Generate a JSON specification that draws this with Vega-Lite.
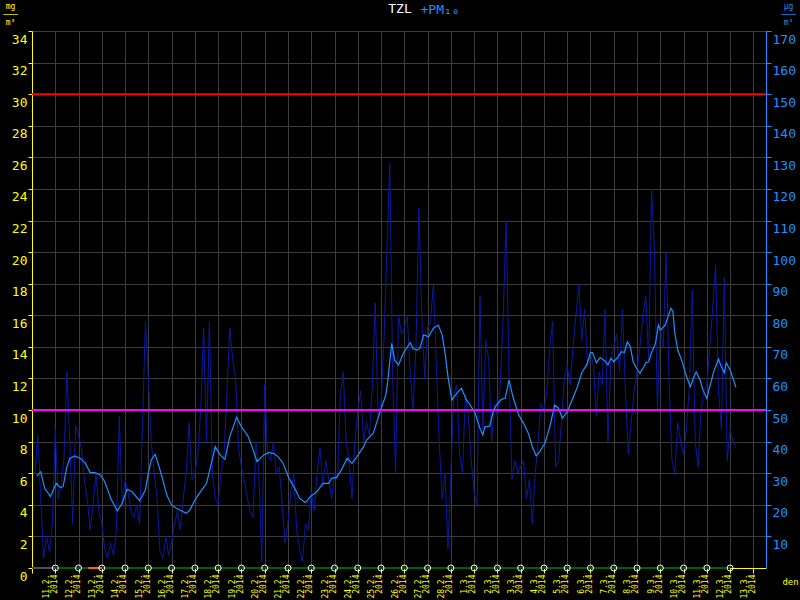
{
  "$schema": "https://vega.github.io/schema/vega-lite/v6.json",
  "width": 734,
  "height": 537,
  "autosize": {"type": "none"},
  "padding": {"left": 32, "top": 31, "right": 34, "bottom": 32},
  "background": "#000000",
  "config": {"view": {"stroke": null}, "font": "DejaVu Sans Mono", "axis": {"labelOverlap": false}},
  "title": {
    "text": "TZL",
    "color": "#ffffff",
    "font": "DejaVu Sans Mono",
    "fontSize": 13,
    "fontWeight": "normal",
    "anchor": "middle",
    "dx": 1,
    "offset": -14
  },
  "datasets": {
    "raw": [
      {"t":"2014-02-11 03:00","v":30},{"t":"2014-02-11 06:00","v":42},{"t":"2014-02-11 09:00","v":22},{"t":"2014-02-11 12:00","v":3},{"t":"2014-02-11 15:00","v":10},{"t":"2014-02-11 18:00","v":5},{"t":"2014-02-11 21:00","v":14},
      {"t":"2014-02-12 00:00","v":44},{"t":"2014-02-12 03:00","v":22},{"t":"2014-02-12 06:00","v":26},{"t":"2014-02-12 09:00","v":35},{"t":"2014-02-12 12:00","v":62},{"t":"2014-02-12 15:00","v":40},{"t":"2014-02-12 18:00","v":14},{"t":"2014-02-12 21:00","v":45},
      {"t":"2014-02-13 00:00","v":42},{"t":"2014-02-13 03:00","v":38},{"t":"2014-02-13 06:00","v":28},{"t":"2014-02-13 09:00","v":22},{"t":"2014-02-13 12:00","v":12},{"t":"2014-02-13 15:00","v":20},{"t":"2014-02-13 18:00","v":30},{"t":"2014-02-13 21:00","v":18},
      {"t":"2014-02-14 00:00","v":14},{"t":"2014-02-14 03:00","v":6},{"t":"2014-02-14 06:00","v":3},{"t":"2014-02-14 09:00","v":8},{"t":"2014-02-14 12:00","v":4},{"t":"2014-02-14 15:00","v":12},{"t":"2014-02-14 18:00","v":48},{"t":"2014-02-14 21:00","v":20},
      {"t":"2014-02-15 00:00","v":28},{"t":"2014-02-15 03:00","v":24},{"t":"2014-02-15 06:00","v":18},{"t":"2014-02-15 09:00","v":16},{"t":"2014-02-15 12:00","v":20},{"t":"2014-02-15 15:00","v":14},{"t":"2014-02-15 18:00","v":46},{"t":"2014-02-15 21:00","v":78},
      {"t":"2014-02-16 00:00","v":60},{"t":"2014-02-16 03:00","v":40},{"t":"2014-02-16 06:00","v":30},{"t":"2014-02-16 09:00","v":22},{"t":"2014-02-16 12:00","v":5},{"t":"2014-02-16 15:00","v":3},{"t":"2014-02-16 18:00","v":10},{"t":"2014-02-16 21:00","v":4},
      {"t":"2014-02-17 00:00","v":8},{"t":"2014-02-17 03:00","v":14},{"t":"2014-02-17 06:00","v":18},{"t":"2014-02-17 09:00","v":12},{"t":"2014-02-17 12:00","v":22},{"t":"2014-02-17 15:00","v":30},{"t":"2014-02-17 18:00","v":46},{"t":"2014-02-17 21:00","v":28},
      {"t":"2014-02-18 00:00","v":30},{"t":"2014-02-18 03:00","v":36},{"t":"2014-02-18 06:00","v":50},{"t":"2014-02-18 09:00","v":76},{"t":"2014-02-18 12:00","v":40},{"t":"2014-02-18 15:00","v":78},{"t":"2014-02-18 18:00","v":30},{"t":"2014-02-18 21:00","v":22},
      {"t":"2014-02-19 00:00","v":20},{"t":"2014-02-19 03:00","v":30},{"t":"2014-02-19 06:00","v":36},{"t":"2014-02-19 09:00","v":55},{"t":"2014-02-19 12:00","v":76},{"t":"2014-02-19 15:00","v":66},{"t":"2014-02-19 18:00","v":60},{"t":"2014-02-19 21:00","v":38},
      {"t":"2014-02-20 00:00","v":32},{"t":"2014-02-20 03:00","v":28},{"t":"2014-02-20 06:00","v":22},{"t":"2014-02-20 09:00","v":18},{"t":"2014-02-20 12:00","v":16},{"t":"2014-02-20 15:00","v":40},{"t":"2014-02-20 18:00","v":30},{"t":"2014-02-20 21:00","v":2},
      {"t":"2014-02-21 00:00","v":58},{"t":"2014-02-21 03:00","v":36},{"t":"2014-02-21 06:00","v":34},{"t":"2014-02-21 09:00","v":40},{"t":"2014-02-21 12:00","v":30},{"t":"2014-02-21 15:00","v":32},{"t":"2014-02-21 18:00","v":20},{"t":"2014-02-21 21:00","v":8},
      {"t":"2014-02-22 00:00","v":14},{"t":"2014-02-22 03:00","v":24},{"t":"2014-02-22 06:00","v":30},{"t":"2014-02-22 09:00","v":12},{"t":"2014-02-22 12:00","v":6},{"t":"2014-02-22 15:00","v":2},{"t":"2014-02-22 18:00","v":14},{"t":"2014-02-22 21:00","v":12},
      {"t":"2014-02-23 00:00","v":24},{"t":"2014-02-23 03:00","v":18},{"t":"2014-02-23 06:00","v":30},{"t":"2014-02-23 09:00","v":38},{"t":"2014-02-23 12:00","v":26},{"t":"2014-02-23 15:00","v":34},{"t":"2014-02-23 18:00","v":28},{"t":"2014-02-23 21:00","v":22},
      {"t":"2014-02-24 00:00","v":30},{"t":"2014-02-24 03:00","v":28},{"t":"2014-02-24 06:00","v":55},{"t":"2014-02-24 09:00","v":62},{"t":"2014-02-24 12:00","v":40},{"t":"2014-02-24 15:00","v":34},{"t":"2014-02-24 18:00","v":22},{"t":"2014-02-24 21:00","v":40},
      {"t":"2014-02-25 00:00","v":50},{"t":"2014-02-25 03:00","v":56},{"t":"2014-02-25 06:00","v":40},{"t":"2014-02-25 09:00","v":46},{"t":"2014-02-25 12:00","v":42},{"t":"2014-02-25 15:00","v":58},{"t":"2014-02-25 18:00","v":84},{"t":"2014-02-25 21:00","v":48},
      {"t":"2014-02-26 00:00","v":52},{"t":"2014-02-26 03:00","v":72},{"t":"2014-02-26 06:00","v":100},{"t":"2014-02-26 09:00","v":128},{"t":"2014-02-26 12:00","v":60},{"t":"2014-02-26 15:00","v":30},{"t":"2014-02-26 18:00","v":80},{"t":"2014-02-26 21:00","v":74},
      {"t":"2014-02-27 00:00","v":76},{"t":"2014-02-27 03:00","v":80},{"t":"2014-02-27 06:00","v":62},{"t":"2014-02-27 09:00","v":50},{"t":"2014-02-27 12:00","v":70},{"t":"2014-02-27 15:00","v":114},{"t":"2014-02-27 18:00","v":80},{"t":"2014-02-27 21:00","v":60},
      {"t":"2014-02-28 00:00","v":76},{"t":"2014-02-28 03:00","v":78},{"t":"2014-02-28 06:00","v":90},{"t":"2014-02-28 09:00","v":64},{"t":"2014-02-28 12:00","v":40},{"t":"2014-02-28 15:00","v":22},{"t":"2014-02-28 18:00","v":30},{"t":"2014-02-28 21:00","v":6},
      {"t":"2014-03-01 00:00","v":30},{"t":"2014-03-01 03:00","v":55},{"t":"2014-03-01 06:00","v":58},{"t":"2014-03-01 09:00","v":36},{"t":"2014-03-01 12:00","v":30},{"t":"2014-03-01 15:00","v":55},{"t":"2014-03-01 18:00","v":48},{"t":"2014-03-01 21:00","v":34},
      {"t":"2014-03-02 00:00","v":24},{"t":"2014-03-02 03:00","v":20},{"t":"2014-03-02 06:00","v":86},{"t":"2014-03-02 09:00","v":44},{"t":"2014-03-02 12:00","v":72},{"t":"2014-03-02 15:00","v":66},{"t":"2014-03-02 18:00","v":40},{"t":"2014-03-02 21:00","v":52},
      {"t":"2014-03-03 00:00","v":48},{"t":"2014-03-03 03:00","v":58},{"t":"2014-03-03 06:00","v":80},{"t":"2014-03-03 09:00","v":110},{"t":"2014-03-03 12:00","v":62},{"t":"2014-03-03 15:00","v":28},{"t":"2014-03-03 18:00","v":34},{"t":"2014-03-03 21:00","v":30},
      {"t":"2014-03-04 00:00","v":32},{"t":"2014-03-04 03:00","v":34},{"t":"2014-03-04 06:00","v":22},{"t":"2014-03-04 09:00","v":28},{"t":"2014-03-04 12:00","v":14},{"t":"2014-03-04 15:00","v":30},{"t":"2014-03-04 18:00","v":40},{"t":"2014-03-04 21:00","v":52},
      {"t":"2014-03-05 00:00","v":50},{"t":"2014-03-05 03:00","v":56},{"t":"2014-03-05 06:00","v":70},{"t":"2014-03-05 09:00","v":78},{"t":"2014-03-05 12:00","v":32},{"t":"2014-03-05 15:00","v":34},{"t":"2014-03-05 18:00","v":46},{"t":"2014-03-05 21:00","v":60},
      {"t":"2014-03-06 00:00","v":64},{"t":"2014-03-06 03:00","v":58},{"t":"2014-03-06 06:00","v":70},{"t":"2014-03-06 09:00","v":80},{"t":"2014-03-06 12:00","v":90},{"t":"2014-03-06 15:00","v":72},{"t":"2014-03-06 18:00","v":82},{"t":"2014-03-06 21:00","v":64},
      {"t":"2014-03-07 00:00","v":68},{"t":"2014-03-07 03:00","v":64},{"t":"2014-03-07 06:00","v":48},{"t":"2014-03-07 09:00","v":62},{"t":"2014-03-07 12:00","v":58},{"t":"2014-03-07 15:00","v":82},{"t":"2014-03-07 18:00","v":40},{"t":"2014-03-07 21:00","v":66},
      {"t":"2014-03-08 00:00","v":70},{"t":"2014-03-08 03:00","v":74},{"t":"2014-03-08 06:00","v":62},{"t":"2014-03-08 09:00","v":82},{"t":"2014-03-08 12:00","v":56},{"t":"2014-03-08 15:00","v":36},{"t":"2014-03-08 18:00","v":46},{"t":"2014-03-08 21:00","v":56},
      {"t":"2014-03-09 00:00","v":62},{"t":"2014-03-09 03:00","v":70},{"t":"2014-03-09 06:00","v":80},{"t":"2014-03-09 09:00","v":86},{"t":"2014-03-09 12:00","v":66},{"t":"2014-03-09 15:00","v":120},{"t":"2014-03-09 18:00","v":100},{"t":"2014-03-09 21:00","v":50},
      {"t":"2014-03-10 00:00","v":76},{"t":"2014-03-10 03:00","v":70},{"t":"2014-03-10 06:00","v":100},{"t":"2014-03-10 09:00","v":60},{"t":"2014-03-10 12:00","v":34},{"t":"2014-03-10 15:00","v":30},{"t":"2014-03-10 18:00","v":46},{"t":"2014-03-10 21:00","v":40},
      {"t":"2014-03-11 00:00","v":36},{"t":"2014-03-11 03:00","v":44},{"t":"2014-03-11 06:00","v":58},{"t":"2014-03-11 09:00","v":88},{"t":"2014-03-11 12:00","v":40},{"t":"2014-03-11 15:00","v":32},{"t":"2014-03-11 18:00","v":50},{"t":"2014-03-11 21:00","v":56},
      {"t":"2014-03-12 00:00","v":58},{"t":"2014-03-12 03:00","v":70},{"t":"2014-03-12 06:00","v":82},{"t":"2014-03-12 09:00","v":96},{"t":"2014-03-12 12:00","v":56},{"t":"2014-03-12 15:00","v":44},{"t":"2014-03-12 18:00","v":92},{"t":"2014-03-12 21:00","v":34},
      {"t":"2014-03-13 00:00","v":44},{"t":"2014-03-13 03:00","v":40},{"t":"2014-03-13 06:00","v":38}
    ],
    "avg": [
      {"t":"2014-02-11 05:00","v":29.1},{"t":"2014-02-11 09:00","v":30.5},{"t":"2014-02-11 13:00","v":25.3},{"t":"2014-02-11 19:00","v":22.6},
      {"t":"2014-02-12 01:00","v":26.8},{"t":"2014-02-12 05:00","v":25.5},{"t":"2014-02-12 08:00","v":25.7},{"t":"2014-02-12 12:00","v":32},{"t":"2014-02-12 15:00","v":34.7},{"t":"2014-02-12 20:00","v":35.5},
      {"t":"2014-02-13 02:00","v":34.7},{"t":"2014-02-13 07:00","v":33.1},{"t":"2014-02-13 12:00","v":30.2},{"t":"2014-02-13 17:00","v":30.2},{"t":"2014-02-13 23:00","v":29.4},
      {"t":"2014-02-14 03:00","v":27.3},{"t":"2014-02-14 10:00","v":21.5},{"t":"2014-02-14 16:00","v":18.1},{"t":"2014-02-14 21:00","v":20.5},
      {"t":"2014-02-15 02:00","v":24.9},{"t":"2014-02-15 07:00","v":24.2},{"t":"2014-02-15 15:00","v":21.3},{"t":"2014-02-15 21:00","v":24.7},
      {"t":"2014-02-16 00:00","v":30},{"t":"2014-02-16 03:00","v":34.2},{"t":"2014-02-16 07:00","v":36},{"t":"2014-02-16 10:00","v":33.1},{"t":"2014-02-16 14:00","v":28.9},{"t":"2014-02-16 19:00","v":23.1},
      {"t":"2014-02-17 00:00","v":19.9},{"t":"2014-02-17 05:00","v":18.9},{"t":"2014-02-17 10:00","v":18.1},{"t":"2014-02-17 15:00","v":17.3},{"t":"2014-02-17 19:00","v":18.4},
      {"t":"2014-02-18 00:00","v":21.5},{"t":"2014-02-18 05:00","v":23.8},{"t":"2014-02-18 12:00","v":26.8},{"t":"2014-02-18 17:00","v":33.1},{"t":"2014-02-18 21:00","v":38.4},
      {"t":"2014-02-19 02:00","v":35.8},{"t":"2014-02-19 07:00","v":34.4},{"t":"2014-02-19 12:00","v":41.6},{"t":"2014-02-19 19:00","v":47.7},
      {"t":"2014-02-20 00:00","v":44.7},{"t":"2014-02-20 07:00","v":41.6},{"t":"2014-02-20 12:00","v":37.4},{"t":"2014-02-20 16:00","v":33.7},{"t":"2014-02-20 23:00","v":35.8},
      {"t":"2014-02-21 04:00","v":36.5},{"t":"2014-02-21 09:00","v":36.3},{"t":"2014-02-21 14:00","v":35.2},{"t":"2014-02-21 19:00","v":33.1},
      {"t":"2014-02-22 01:00","v":28.4},{"t":"2014-02-22 07:00","v":25.2},{"t":"2014-02-22 12:00","v":22.1},{"t":"2014-02-22 18:00","v":20.7},{"t":"2014-02-22 23:00","v":22.6},
      {"t":"2014-02-23 06:00","v":24.2},{"t":"2014-02-23 12:00","v":26.8},{"t":"2014-02-23 18:00","v":26.8},{"t":"2014-02-23 21:00","v":28.4},
      {"t":"2014-02-24 02:00","v":28.7},{"t":"2014-02-24 07:00","v":31},{"t":"2014-02-24 13:00","v":34.7},{"t":"2014-02-24 18:00","v":33.1},{"t":"2014-02-24 23:00","v":35.2},
      {"t":"2014-02-25 06:00","v":38.4},{"t":"2014-02-25 09:00","v":40.5},{"t":"2014-02-25 16:00","v":42.7},{"t":"2014-02-25 23:00","v":49.5},
      {"t":"2014-02-26 05:00","v":54.8},{"t":"2014-02-26 07:00","v":59.5},{"t":"2014-02-26 11:00","v":71.1},{"t":"2014-02-26 14:00","v":65.8},{"t":"2014-02-26 18:00","v":64.3},{"t":"2014-02-26 23:00","v":68},
      {"t":"2014-02-27 06:00","v":71.3},{"t":"2014-02-27 09:00","v":69.5},{"t":"2014-02-27 13:00","v":69},{"t":"2014-02-27 16:00","v":69.5},{"t":"2014-02-27 20:00","v":73.8},
      {"t":"2014-02-28 01:00","v":73.2},{"t":"2014-02-28 06:00","v":75.9},{"t":"2014-02-28 11:00","v":76.9},{"t":"2014-02-28 15:00","v":73.8},{"t":"2014-02-28 18:00","v":68},{"t":"2014-02-28 21:00","v":60.6},
      {"t":"2014-03-01 01:00","v":53.2},{"t":"2014-03-01 06:00","v":55.3},{"t":"2014-03-01 11:00","v":56.9},{"t":"2014-03-01 16:00","v":53.2},{"t":"2014-03-01 20:00","v":51.6},
      {"t":"2014-03-02 01:00","v":49},{"t":"2014-03-02 06:00","v":44.2},{"t":"2014-03-02 09:00","v":42.1},{"t":"2014-03-02 11:00","v":44.7},{"t":"2014-03-02 16:00","v":44.9},{"t":"2014-03-02 20:00","v":50},{"t":"2014-03-02 23:00","v":51.6},
      {"t":"2014-03-03 04:00","v":53.4},{"t":"2014-03-03 08:00","v":53.7},{"t":"2014-03-03 12:00","v":59.5},{"t":"2014-03-03 16:00","v":54.2},{"t":"2014-03-03 22:00","v":48.4},
      {"t":"2014-03-04 03:00","v":45.8},{"t":"2014-03-04 08:00","v":42.6},{"t":"2014-03-04 12:00","v":38.4},{"t":"2014-03-04 16:00","v":35.5},{"t":"2014-03-04 20:00","v":37},
      {"t":"2014-03-05 01:00","v":39.5},{"t":"2014-03-05 06:00","v":44.7},{"t":"2014-03-05 11:00","v":51.6},{"t":"2014-03-05 15:00","v":50.6},{"t":"2014-03-05 19:00","v":47.4},
      {"t":"2014-03-06 00:00","v":49.5},{"t":"2014-03-06 05:00","v":53.2},{"t":"2014-03-06 10:00","v":56.9},{"t":"2014-03-06 15:00","v":61.8},{"t":"2014-03-06 20:00","v":64.3},
      {"t":"2014-03-07 00:00","v":68.2},{"t":"2014-03-07 02:00","v":68.2},{"t":"2014-03-07 06:00","v":65},{"t":"2014-03-07 10:00","v":66.6},{"t":"2014-03-07 15:00","v":65.5},{"t":"2014-03-07 18:00","v":64.3},{"t":"2014-03-07 21:00","v":66.4},
      {"t":"2014-03-08 00:00","v":65.3},{"t":"2014-03-08 04:00","v":66.7},{"t":"2014-03-08 08:00","v":68.5},{"t":"2014-03-08 11:00","v":68.2},{"t":"2014-03-08 14:00","v":71.6},{"t":"2014-03-08 17:00","v":70.1},{"t":"2014-03-08 20:00","v":65.3},
      {"t":"2014-03-09 00:00","v":62.9},{"t":"2014-03-09 03:00","v":61.6},{"t":"2014-03-09 07:00","v":63.7},{"t":"2014-03-09 09:00","v":65},{"t":"2014-03-09 12:00","v":65.3},{"t":"2014-03-09 15:00","v":68.2},{"t":"2014-03-09 19:00","v":71.1},{"t":"2014-03-09 22:00","v":76.9},
      {"t":"2014-03-10 00:00","v":75.3},{"t":"2014-03-10 05:00","v":76.9},{"t":"2014-03-10 08:00","v":79.6},{"t":"2014-03-10 11:00","v":82.2},{"t":"2014-03-10 13:00","v":81.2},{"t":"2014-03-10 15:00","v":74.3},{"t":"2014-03-10 18:00","v":69},{"t":"2014-03-10 22:00","v":65.8},
      {"t":"2014-03-11 03:00","v":60.6},{"t":"2014-03-11 07:00","v":57.4},{"t":"2014-03-11 10:00","v":60},{"t":"2014-03-11 13:00","v":62.1},{"t":"2014-03-11 17:00","v":59.5},{"t":"2014-03-11 20:00","v":56.3},
      {"t":"2014-03-12 00:00","v":53.7},{"t":"2014-03-12 03:00","v":57.4},{"t":"2014-03-12 07:00","v":62.1},{"t":"2014-03-12 12:00","v":66.1},{"t":"2014-03-12 15:00","v":63.7},{"t":"2014-03-12 18:00","v":61.8},{"t":"2014-03-12 20:00","v":65},
      {"t":"2014-03-13 00:00","v":62.7},{"t":"2014-03-13 03:00","v":60},{"t":"2014-03-13 06:00","v":57.2}
    ],
    "limits": [
      {"v": 150, "k": "alert"},
      {"v": 50, "k": "limit"}
    ],
    "status": [
      {"t":"2014-02-11 00:00","t2":"2014-02-12 00:00","s":"none"},
      {"t":"2014-02-12 00:00","t2":"2014-03-13 00:00","s":"ok"},
      {"t":"2014-02-13 10:00","t2":"2014-02-14 00:00","s":"warn"}
    ],
    "days": [
      {"t":"2014-02-12 00:00"},{"t":"2014-02-13 00:00"},{"t":"2014-02-14 00:00"},{"t":"2014-02-15 00:00"},{"t":"2014-02-16 00:00"},
      {"t":"2014-02-17 00:00"},{"t":"2014-02-18 00:00"},{"t":"2014-02-19 00:00"},{"t":"2014-02-20 00:00"},{"t":"2014-02-21 00:00"},
      {"t":"2014-02-22 00:00"},{"t":"2014-02-23 00:00"},{"t":"2014-02-24 00:00"},{"t":"2014-02-25 00:00"},{"t":"2014-02-26 00:00"},
      {"t":"2014-02-27 00:00"},{"t":"2014-02-28 00:00"},{"t":"2014-03-01 00:00"},{"t":"2014-03-02 00:00"},{"t":"2014-03-03 00:00"},
      {"t":"2014-03-04 00:00"},{"t":"2014-03-05 00:00"},{"t":"2014-03-06 00:00"},{"t":"2014-03-07 00:00"},{"t":"2014-03-08 00:00"},
      {"t":"2014-03-09 00:00"},{"t":"2014-03-10 00:00"},{"t":"2014-03-11 00:00"},{"t":"2014-03-12 00:00"},{"t":"2014-03-13 00:00"}
    ]
  },
  "layer": [
    {
      "layer": [
        {
          "data": {"name": "raw"},
          "mark": {"type": "line", "color": "#0a1aa0", "strokeWidth": 1},
          "encoding": {
            "x": {
              "field": "t", "type": "temporal",
              "scale": {"domain": [{"year": 2014, "month": 2, "date": 11, "hours": 0}, {"year": 2014, "month": 3, "date": 14, "hours": 13}], "nice": false},
              "axis": {
                "orient": "top", "labels": false, "ticks": false, "domain": false, "grid": false,
                "title": "+PM₁₀", "titleColor": "#1e90ff", "titleFont": "DejaVu Sans Mono", "titleFontSize": 13, "titleFontWeight": "normal",
                "titleX": 388, "titleY": -18, "titleAlign": "left", "titleBaseline": "alphabetic"
              }
            },
            "y": {
              "field": "v", "type": "quantitative",
              "scale": {"domain": [0, 170], "nice": false},
              "axis": {
                "orient": "right", "values": [10,20,30,40,50,60,70,80,90,100,110,120,130,140,150,160,170], "tickCount": 40,
                "grid": false, "domainColor": "#1e90ff", "tickColor": "#1e90ff", "tickSize": 5,
                "labelColor": "#1e90ff", "labelFont": "DejaVu Sans Mono", "labelFontSize": 13,
                "labelBaseline": "middle", "labelOffset": 8, "labelPadding": 1, "labelBound": false, "labelFlush": false, "labelOverlap": false,
                "title": ["µg", "───", "m³"],
                "titleAngle": 0, "titleColor": "#1e90ff", "titleFont": "DejaVu Sans Mono", "titleFontSize": 8, "titleFontWeight": "normal",
                "titleX": 22, "titleY": -23, "titleAlign": "center", "titleBaseline": "alphabetic", "titleLineHeight": 8
              }
            }
          }
        },
        {
          "data": {"name": "avg"},
          "mark": {"type": "line", "color": "#1e90ff", "strokeWidth": 1.2},
          "encoding": {
            "x": {"field": "t", "type": "temporal"},
            "y": {"field": "v", "type": "quantitative"}
          }
        },
        {
          "data": {"name": "limits"},
          "mark": {"type": "rule", "strokeWidth": 2},
          "encoding": {
            "y": {"field": "v", "type": "quantitative"},
            "color": {"field": "k", "type": "nominal", "scale": {"domain": ["alert", "limit"], "range": ["#ff0000", "#ff00ff"]}, "legend": null}
          }
        }
      ]
    },
    {
      "layer": [
        {
          "data": {"name": "status"},
          "mark": {"type": "rule", "strokeWidth": 2},
          "encoding": {
            "x": {"field": "t", "type": "temporal"},
            "x2": {"field": "t2"},
            "y": {
              "datum": 0, "type": "quantitative",
              "scale": {"domain": [0, 34], "nice": false},
              "axis": {
                "orient": "left", "values": [0,2,4,6,8,10,12,14,16,18,20,22,24,26,28,30,32,34], "tickCount": 40,
                "grid": true, "gridColor": "#3c3c3c", "domainColor": "#ffff00", "tickColor": "#ffff00", "tickSize": 4,
                "labelColor": "#ffff00", "labelFont": "DejaVu Sans Mono", "labelFontSize": 13,
                "labelBaseline": "middle", "labelOffset": 8, "labelPadding": 1, "labelBound": false, "labelFlush": false, "labelOverlap": false,
                "title": ["mg", "───", "m³"],
                "titleAngle": 0, "titleColor": "#ffff00", "titleFont": "DejaVu Sans Mono", "titleFontSize": 8, "titleFontWeight": "normal",
                "titleX": -22, "titleY": -23, "titleAlign": "center", "titleBaseline": "alphabetic", "titleLineHeight": 8
              }
            },
            "color": {"field": "s", "type": "nominal", "scale": {"domain": ["none", "ok", "warn"], "range": ["#505050", "#006000", "#ff6020"]}, "legend": null}
          }
        },
        {
          "data": {"name": "days"},
          "mark": {"type": "point", "shape": "circle", "size": 36, "filled": false, "color": "#ffffff", "strokeWidth": 1, "opacity": 1},
          "encoding": {
            "x": {
              "field": "t", "type": "temporal",
              "axis": {
                "orient": "bottom", "grid": true, "gridColor": "#3c3c3c", "tickCount": {"interval": "day", "step": 1},
                "domainColor": "#ffff00", "tickColor": "#ffff00", "tickSize": 5,
                "labelColor": "#ffff00", "labelFont": "DejaVu Sans Mono", "labelFontSize": 8, "labelLineHeight": 8,
                "labelAngle": 270, "labelAlign": "right", "labelBaseline": "middle", "labelOffset": 14, "labelPadding": 1,
                "labelOverlap": false, "labelBound": false, "labelFlush": false,
                "labelExpr": "datum.value > datetime(2014, 2, 13, 12) ? '' : [timeFormat(datum.value, '%-d.%-m.'), timeFormat(datum.value, '%Y')]",
                "title": "den",
                "titleColor": "#ffff00", "titleFont": "DejaVu Sans Mono", "titleFontSize": 9, "titleFontWeight": "normal",
                "titleX": 758, "titleY": 16, "titleAlign": "center", "titleBaseline": "alphabetic"
              }
            },
            "y": {"datum": 0, "type": "quantitative"}
          }
        }
      ]
    }
  ],
  "resolve": {"scale": {"y": "independent", "color": "independent"}, "axis": {"x": "independent"}}
}
